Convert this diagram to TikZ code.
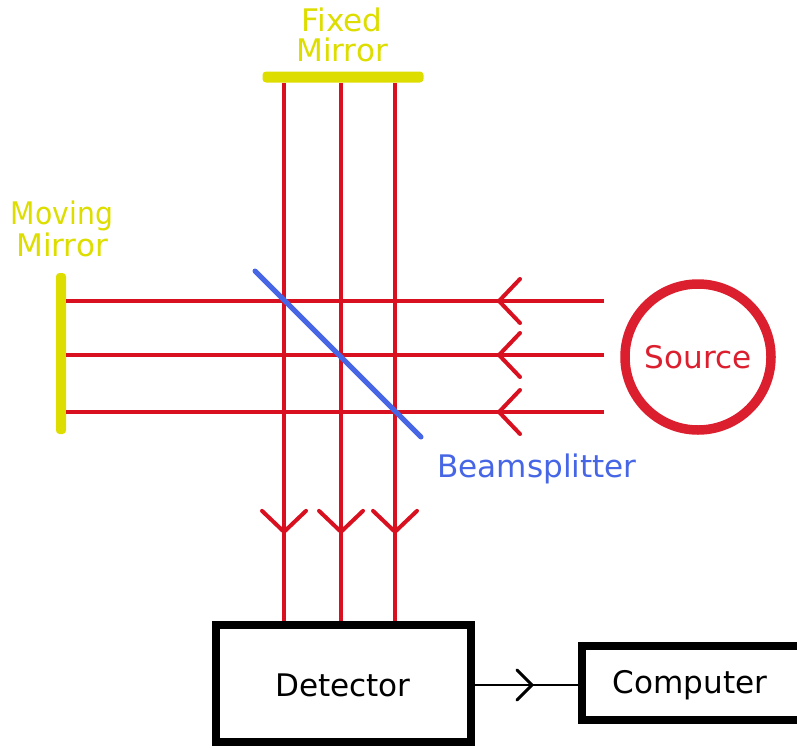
\documentclass[tikz,border=0pt]{standalone}
\usepackage{fontspec}
\setmainfont{DejaVu Sans}
\usetikzlibrary{arrows.meta,decorations.markings}
\definecolor{raycol}{HTML}{D8101F}
\definecolor{srccol}{HTML}{DC1F2E}
\definecolor{mirrorcol}{HTML}{DDDD00}
\definecolor{splitcol}{HTML}{4666E6}
\def\px{0.02cm}
\newcommand{\lblfont}{\fontsize{17.7}{17}\selectfont}
\tikzset{
	lbl/.style={inner sep=0pt,align=center,font=\lblfont},
	mirror/.style={fill=mirrorcol,rounded corners=2pt,inner sep=0pt},
	bx/.style={draw,line width=8*\px,inner sep=0pt},
	ray/.style={raycol,line width=4*\px},
	ray in/.style={ray,decoration={markings,mark=at position #1*\px with {\arrow[line width=4*\px]{Straight Barb[length=21*\px,width=44*\px,round]}}},postaction={decorate}}
}
\begin{document}
\begin{tikzpicture}[x=\px,y=-\px]
	\useasboundingbox (0,0) rectangle (797,747);
	\node[mirror,minimum width=161*\px,minimum height=11*\px] (fixed) at (343,77) {};
	\node[mirror,minimum width=10*\px,minimum height=161*\px] (moving) at (61,353.5) {};
	\node[bx,minimum width=255*\px,minimum height=117*\px] (det) at (343,683) {};
	\node[bx,minimum width=219*\px,minimum height=74*\px] (comp) at (691,682.5) {};
	\node[draw=srccol,circle,line width=9.5*\px,minimum size=146*\px,inner sep=0pt,text=srccol,font=\lblfont] (src) at (698,357) {Source};
	\node[lbl] (detlbl) at (343,685) {Detector};
	\node[lbl] (complbl) at (690,685) {Computer};
	\node[lbl,text=mirrorcol] (fixedlbl) at (342,35) {Fixed\\Mirror};
	\node[lbl,text=mirrorcol] (movinglbl) at (62,229) {\scalebox{.91}[1]{Moving}\\Mirror};
	% rays
	\foreach \x/\n in {284/a,341/b,395/c}{
		\coordinate (t\n) at (\x,77);
		\draw[ray in=451] (t\n |- fixed.south) -- (t\n |- det.north);
	}
	\foreach \y/\n in {301/a,355/b,412/c}{
		\coordinate (s\n) at (604,\y);
		\draw[ray in=107] (s\n) -- (s\n -| moving.east);
	}
	\coordinate (bsa) at (255,271);
	\coordinate (bsb) at (421,437);
	\draw[splitcol,line width=5*\px,line cap=round] (bsa) -- (bsb);
	\node[lbl,text=splitcol] (bslbl) at (537,469) {Beamsplitter};
	\draw[line width=2*\px,decoration={markings,mark=at position 59*\px with {\arrow[line width=3*\px]{Straight Barb[length=15*\px,width=30*\px,round]}}},postaction={decorate}] (det.east |- 0,685) -- (comp.west |- 0,685);
\end{tikzpicture}
\end{document}
